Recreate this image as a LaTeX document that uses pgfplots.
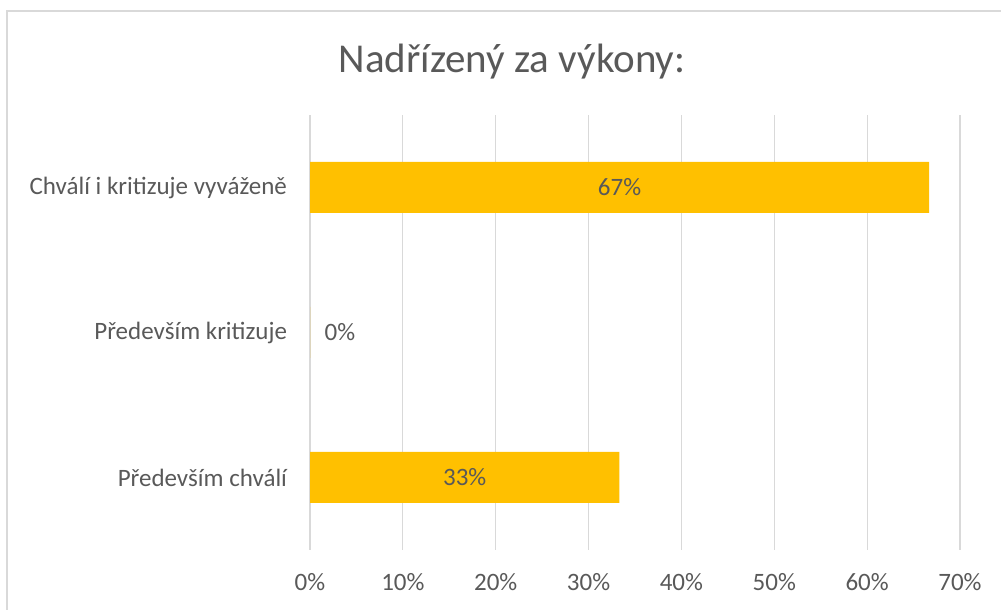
\documentclass[border=0pt]{standalone}
\usepackage{pgfplots}
\pgfplotsset{compat=1.18}
\usepackage{fontspec}
\setmainfont{Carlito}
\definecolor{bargold}{HTML}{FFC000}
\definecolor{txtgrey}{HTML}{595959}
\definecolor{gridgrey}{HTML}{D9D9D9}
\begin{document}
\begin{tikzpicture}
  \useasboundingbox (0,0) rectangle (500.5pt,305pt);
  \draw[gridgrey, line width=0.6pt] (3.5pt,0) -- (3.5pt,299.5pt) -- (500.5pt,299.5pt);
  \node[txtgrey, font=\fontsize{20.5}{24}\selectfont] at (256pt,274pt) {Nadřízený za výkony:};
  \begin{axis}[
    at={(155pt,30pt)}, anchor=south west,
    scale only axis,
    width=325pt, height=217.5pt,
    xbar, bar width=25.5pt,
    xmin=0, xmax=70,
    ymin=-0.5, ymax=2.5,
    xtick={0,10,...,70},
    xticklabel={\pgfmathprintnumber{\tick}\%},
    ytick={0,1,2},
    yticklabels={Především chválí, Především kritizuje, Chválí i kritizuje vyváženě},
    axis line style={draw=none},
    major tick length=0pt,
    xmajorgrids,
    grid style={gridgrey, line width=0.6pt},
    /pgf/number format/assume math mode=true,
    tick label style={txtgrey, font=\fontsize{12.5}{15}\selectfont},
    xticklabel style={yshift=-8pt},
    yticklabel style={xshift=-8pt},
    visualization depends on={x \as \rawx},
    nodes near coords={\pgfmathprintnumber[fixed,precision=0]{\pgfplotspointmeta}\%},
    every node near coord/.append style={
      txtgrey, font=\fontsize{12.5}{15}\selectfont, anchor=center,
      shift={(axis direction cs:-\rawx/2,0)},
      xshift={ifthenelse(\rawx==0,15,0)}},
  ]
    \addplot[fill=bargold, draw=none] coordinates {
      (33.33,0) (0,1) (66.67,2)
    };
  \end{axis}
\end{tikzpicture}
\end{document}
